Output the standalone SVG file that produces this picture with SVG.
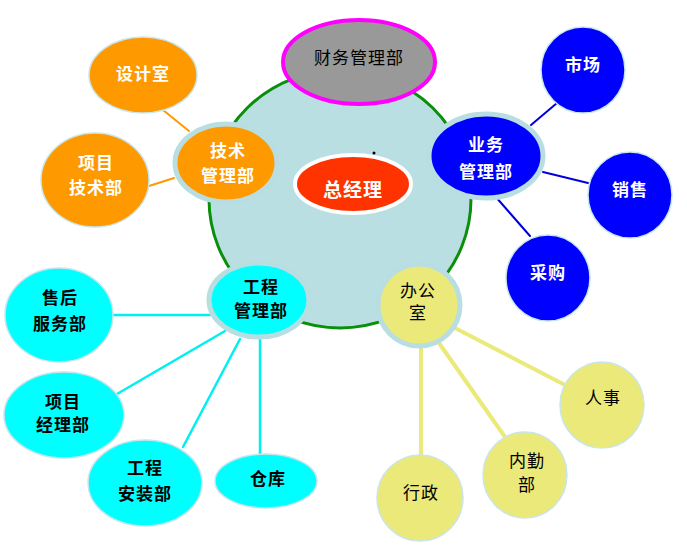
<svg xmlns="http://www.w3.org/2000/svg" width="687" height="546" viewBox="0 0 687 546">
<style>
text{font-family:"Liberation Serif","Noto Sans CJK SC",serif;font-size:17px;letter-spacing:1px;font-weight:bold;text-anchor:middle;dominant-baseline:central}
.w{fill:#fff}
.k{fill:#000}
.ring{stroke:#B9DEE2;stroke-width:5}
.thin{stroke:#C9E6EA;stroke-width:1.5}
.or{fill:#FF9900}
.bl{fill:#0000FF}
.cy{fill:#00FFFF}
.ye{fill:#EBE97A}
</style>
<rect width="687" height="546" fill="#fff"/>
<g id="core">
<ellipse cx="340" cy="199" rx="131" ry="129" fill="#BADFE3" stroke="#0A8F0A" stroke-width="3"/>
<circle cx="374" cy="153" r="1.5" fill="#000"/>
</g>
<g id="connectors" fill="none" stroke-linecap="round">
<g stroke="#FF9900" stroke-width="2">
<line x1="163" y1="110" x2="189" y2="131"/>
<line x1="149" y1="186" x2="174" y2="178"/>
</g>
<g stroke="#0000DD" stroke-width="2">
<line x1="531" y1="125" x2="557" y2="103"/>
<line x1="543" y1="172" x2="588" y2="183"/>
<line x1="495" y1="196" x2="530" y2="236"/>
</g>
<g stroke="#00F0F0" stroke-width="2.5">
<line x1="113" y1="315" x2="210" y2="315"/>
<line x1="117" y1="394" x2="225" y2="331"/>
<line x1="183" y1="447" x2="240" y2="339"/>
<line x1="260" y1="339" x2="260" y2="455"/>
</g>
<g stroke="#EBE97A" stroke-width="4">
<line x1="455" y1="328" x2="565" y2="385"/>
<line x1="439" y1="343" x2="505" y2="437"/>
<line x1="421" y1="348" x2="421" y2="455"/>
</g>
</g>
<g id="finance">
<ellipse cx="359" cy="62" rx="76" ry="42" fill="#999999" stroke="#FF00FF" stroke-width="4"/>
<text class="k" x="359" y="58" style="font-weight:normal;font-size:17px">财务管理部</text>
</g>
<g id="gm">
<ellipse cx="353" cy="184" rx="58" ry="29" fill="#FF3300" stroke="#fff" stroke-width="4"/>
<text class="w" x="353" y="190" style="font-size:19px">总经理</text>
</g>
<g id="tech">
<ellipse cx="226" cy="163" rx="51" ry="39" class="or ring"/>
<text class="w" x="228" y="151">技术</text>
<text class="w" x="228" y="176">管理部</text>
</g>
<g id="design">
<ellipse cx="143" cy="75" rx="54" ry="38" class="or thin"/>
<text class="w" x="143" y="74">设计室</text>
</g>
<g id="projtech">
<ellipse cx="95" cy="180" rx="54" ry="47" class="or thin"/>
<text class="w" x="96" y="163">项目</text>
<text class="w" x="96" y="188">技术部</text>
</g>
<g id="business">
<ellipse cx="486" cy="156" rx="57" ry="42" class="bl ring"/>
<text class="w" x="486" y="145">业务</text>
<text class="w" x="486" y="172">管理部</text>
</g>
<g id="market">
<ellipse cx="583" cy="70" rx="42" ry="43" class="bl thin"/>
<text class="w" x="583" y="65">市场</text>
</g>
<g id="sales">
<ellipse cx="630" cy="195" rx="42" ry="43" class="bl thin"/>
<text class="w" x="630" y="190">销售</text>
</g>
<g id="purchase">
<ellipse cx="548" cy="278" rx="42" ry="43" class="bl thin"/>
<text class="w" x="548" y="273">采购</text>
</g>
<g id="engineering">
<ellipse cx="259" cy="300" rx="50" ry="37" class="cy ring"/>
<text class="k" x="261" y="287">工程</text>
<text class="k" x="261" y="311">管理部</text>
</g>
<g id="aftersales">
<ellipse cx="59" cy="315" rx="54" ry="47" class="cy thin"/>
<text class="k" x="60" y="298">售后</text>
<text class="k" x="60" y="324">服务部</text>
</g>
<g id="pm">
<ellipse cx="64" cy="415" rx="60" ry="43" class="cy thin"/>
<text class="k" x="63" y="402">项目</text>
<text class="k" x="63" y="425">经理部</text>
</g>
<g id="install">
<ellipse cx="145" cy="483" rx="57" ry="43" class="cy thin"/>
<text class="k" x="145" y="468">工程</text>
<text class="k" x="145" y="494">安装部</text>
</g>
<g id="warehouse">
<ellipse cx="266" cy="481" rx="51" ry="27" class="cy thin"/>
<text class="k" x="268" y="479">仓库</text>
</g>
<g id="office">
<ellipse cx="419" cy="305" rx="41" ry="41" class="ye ring"/>
<text class="k" x="418" y="291" style="font-weight:normal">办公</text>
<text class="k" x="418" y="313" style="font-weight:normal">室</text>
</g>
<g id="hr">
<ellipse cx="602" cy="405" rx="42" ry="43" class="ye thin"/>
<text class="k" x="603" y="398" style="font-weight:normal">人事</text>
</g>
<g id="logistics">
<ellipse cx="525" cy="475" rx="42" ry="43" class="ye thin"/>
<text class="k" x="527" y="461" style="font-weight:normal">内勤</text>
<text class="k" x="527" y="485" style="font-weight:normal">部</text>
</g>
<g id="admin">
<ellipse cx="420" cy="498" rx="43" ry="43" class="ye thin"/>
<text class="k" x="421" y="493" style="font-weight:normal">行政</text>
</g>
</svg>
